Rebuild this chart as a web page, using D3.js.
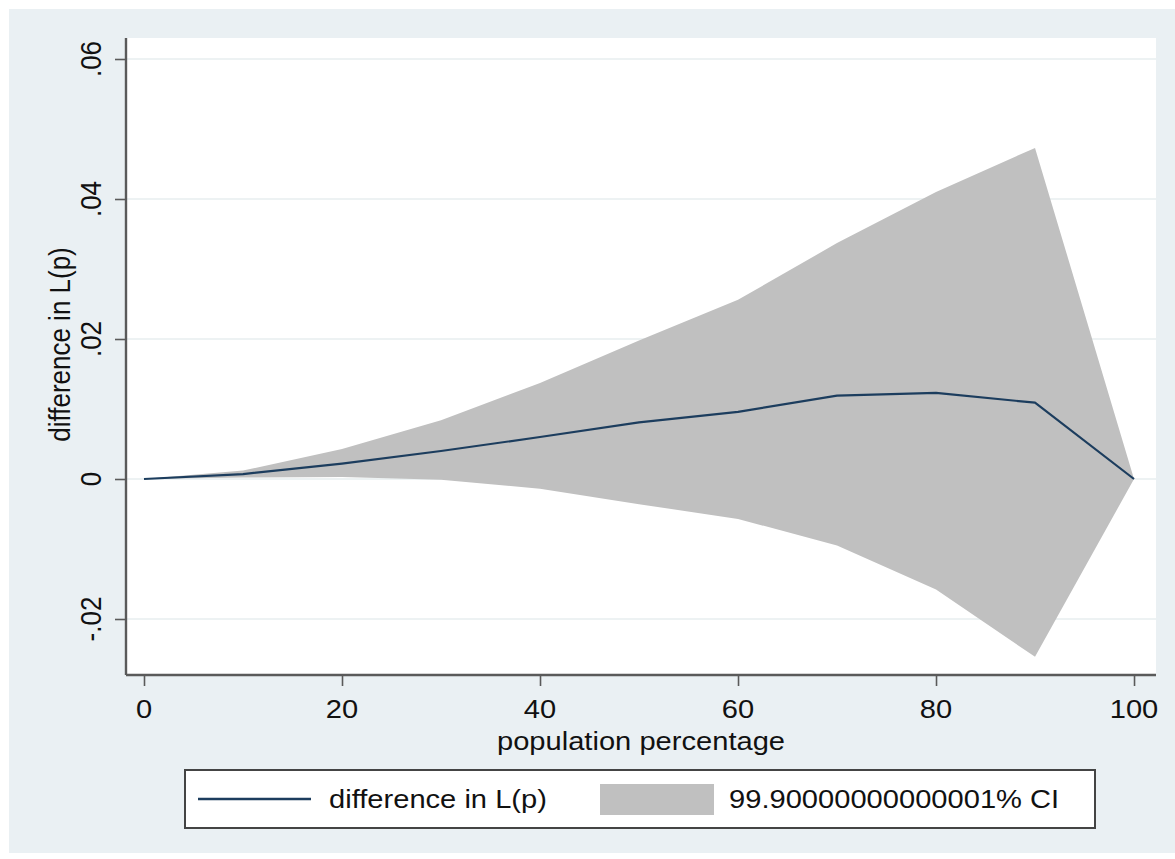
<!DOCTYPE html>
<html>
<head>
<meta charset="utf-8">
<script src="https://cdn.jsdelivr.net/npm/d3@7"></script>
<style>
  html, body { margin: 0; padding: 0; background: #ffffff; }
  svg { display: block; }
  text { font-family: "Liberation Sans", Arial, sans-serif; fill: #111; }
</style>
</head>
<body>
<svg id="chart" width="1175" height="859"></svg>
<script>
// ---- data ----
const pct = [0, 10, 20, 30, 40, 50, 60, 70, 80, 90, 100];
const diffLp = [0, 0.0007, 0.0022, 0.0040, 0.0060, 0.0081, 0.0096, 0.0119, 0.0123, 0.0109, 0];
const ciUpper = [0, 0.0012, 0.0043, 0.0084, 0.0137, 0.0198, 0.0256, 0.0337, 0.0410, 0.0473, 0];
const ciLower = [0, 0.0002, 0.0003, -0.0001, -0.0014, -0.0036, -0.0057, -0.0095, -0.0158, -0.0254, 0];
const xTicks = [0, 20, 40, 60, 80, 100];
const yTicks = [-0.02, 0, 0.02, 0.04, 0.06];
const yTickLabels = ["-.02", "0", ".02", ".04", ".06"];
const xTitle = "population percentage";
const yTitle = "difference in L(p)";
const legendLabels = ["difference in L(p)", "99.90000000000001% CI"];

// ---- layout ----
const svg = d3.select("#chart");
const plot = { left: 126, right: 1156, top: 38, bottom: 675 };
const SX = 1.12; // horizontal stretch of the original picture
const FS = 26;

const x = d3.scaleLinear().domain([-1.818, 102.22]).range([plot.left, plot.right]);
const y = d3.scaleLinear().domain([-0.028, 0.063]).range([plot.bottom, plot.top]);

// graph region background
svg.append("rect").attr("x", 9).attr("y", 9).attr("width", 1166).attr("height", 844)
  .attr("fill", "#eaf0f3");
// plot region
svg.append("rect").attr("x", plot.left).attr("y", plot.top)
  .attr("width", plot.right - plot.left).attr("height", plot.bottom - plot.top)
  .attr("fill", "#ffffff");

// gridlines
svg.append("g").selectAll("line").data(yTicks).join("line")
  .attr("x1", plot.left).attr("x2", plot.right)
  .attr("y1", d => y(d)).attr("y2", d => y(d))
  .attr("stroke", "#edf2f3").attr("stroke-width", 2);

const rows = pct.map((p, i) => ({ p, v: diffLp[i], lo: ciLower[i], hi: ciUpper[i] }));

// CI area
svg.append("path").datum(rows)
  .attr("d", d3.area().x(d => x(d.p)).y0(d => y(d.lo)).y1(d => y(d.hi)))
  .attr("fill", "#c0c0c0");

// line
svg.append("path").datum(rows)
  .attr("d", d3.line().x(d => x(d.p)).y(d => y(d.v)))
  .attr("fill", "none").attr("stroke", "#1c3d5e").attr("stroke-width", 2.2)
  .attr("stroke-linejoin", "round");

// axes
const axisColor = "#5a5a5a";
const xAxis = d3.axisBottom(x).tickValues(xTicks).tickSize(11).tickFormat("");
const gx = svg.append("g").attr("transform", `translate(0,${plot.bottom})`).call(xAxis);
gx.select(".domain").attr("d", `M${plot.left},0H${plot.right}`).attr("stroke", axisColor).attr("stroke-width", 2.4);
gx.selectAll(".tick line").attr("stroke", axisColor).attr("stroke-width", 1.6);

const yAxis = d3.axisLeft(y).tickValues(yTicks).tickSize(11).tickFormat("");
const gy = svg.append("g").attr("transform", `translate(${plot.left},0)`).call(yAxis);
gy.select(".domain").attr("d", `M0,${plot.top}V${plot.bottom}`).attr("stroke", axisColor).attr("stroke-width", 2.4);
gy.selectAll(".tick line").attr("stroke", axisColor).attr("stroke-width", 1.6);

// x tick labels
svg.append("g").selectAll("text").data(xTicks).join("text")
  .attr("transform", d => `translate(${x(d)},718) scale(${SX},1)`)
  .attr("text-anchor", "middle").attr("font-size", FS).text(d => d);

// y tick labels (rotated)
svg.append("g").selectAll("text").data(yTicks).join("text")
  .attr("transform", (d, i) => `translate(101,${y(d)}) scale(${SX},1) rotate(-90)`)
  .attr("text-anchor", "middle").attr("font-size", FS).text((d, i) => yTickLabels[i]);

// axis titles
svg.append("text")
  .attr("transform", `translate(${(plot.left + plot.right) / 2},750) scale(${SX},1)`)
  .attr("text-anchor", "middle").attr("font-size", FS).text(xTitle);
svg.append("text")
  .attr("transform", `translate(70,${(plot.top + plot.bottom) / 2 - 12}) scale(${SX},1) rotate(-90)`)
  .attr("text-anchor", "middle").attr("font-size", FS).text(yTitle);

// legend
const lg = svg.append("g");
lg.append("rect").attr("x", 185).attr("y", 770).attr("width", 910).attr("height", 58)
  .attr("fill", "#ffffff").attr("stroke", "#444").attr("stroke-width", 2);
lg.append("line").attr("x1", 198).attr("x2", 311).attr("y1", 799).attr("y2", 799)
  .attr("stroke", "#1c3d5e").attr("stroke-width", 2.4);
lg.append("text").attr("transform", `translate(329,808) scale(${SX},1)`)
  .attr("font-size", FS).text(legendLabels[0]);
lg.append("rect").attr("x", 600).attr("y", 784).attr("width", 114).attr("height", 31)
  .attr("fill", "#c0c0c0");
lg.append("text").attr("transform", `translate(729,808) scale(${SX},1)`)
  .attr("font-size", FS).text(legendLabels[1]);
</script>
</body>
</html>
